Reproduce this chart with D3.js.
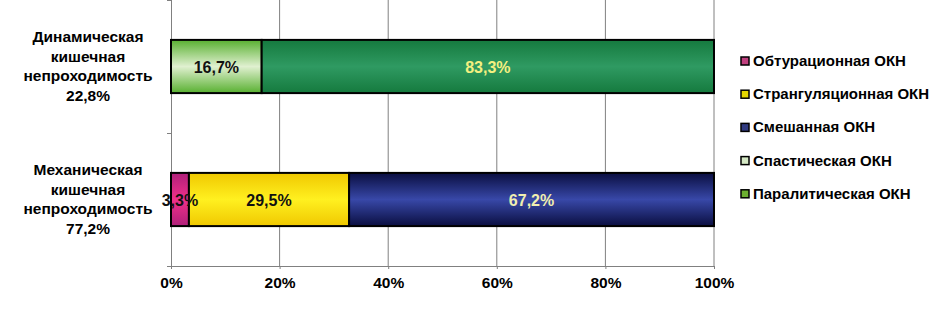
<!DOCTYPE html>
<html>
<head>
<meta charset="utf-8">
<script src="https://cdnjs.cloudflare.com/ajax/libs/d3/7.8.5/d3.min.js"></script>
<style>
  body { margin: 0; background: #fff; }
  svg text { font-family: "Liberation Sans", Arial, sans-serif; font-weight: bold; }
</style>
</head>
<body>
<div id="chart"></div>
<script>
// categories, top to bottom
var categories = ["Динамическая кишечная непроходимость 22,8%", "Механическая кишечная непроходимость 77,2%"];
var categoryLines = [
  ["Динамическая", "кишечная", "непроходимость", "22,8%"],
  ["Механическая", "кишечная", "непроходимость", "77,2%"]
];
var seriesNames = ["Обтурационная ОКН", "Странгуляционная ОКН", "Смешанная ОКН", "Спастическая ОКН", "Паралитическая ОКН"];
// values per series, in category order (dynamic, mechanical)
var obturation = [0, 3.3];
var strangulation = [0, 29.5];
var mixed = [0, 67.2];
var spastic = [16.7, 0];
var paralytic = [83.3, 0];
var valueLabels = [
  ["", "3,3%"], ["", "29,5%"], ["", "67,2%"], ["16,7%", ""], ["83,3%", ""]
];
var xTicks = [0, 0.2, 0.4, 0.6, 0.8, 1];

var allSeries = [obturation, strangulation, mixed, spastic, paralytic];
// [edge, middle] colours for bar gradients, plus legend swatch and label colour
var barColors = [["#b0207a", "#f0308a"], ["#f0c800", "#fff020"], ["#0a0e40", "#3848a8"], ["#58b030", "#e0f0d0"], ["#157a3e", "#2f9a62"]];
var swatchColors = ["#c0407f", "#e6d800", "#303a80", "#d4e8c4", "#6cb030"];
var labelColors = ["#111", "#111", "#f0eeb0", "#111", "#f4f080"];

var width = 947, height = 310;
var margin = { left: 171, right: 233, top: 0, bottom: 44 };

var svg = d3.select("#chart").append("svg")
  .attr("width", width)
  .attr("height", height);

var x = d3.scaleLinear().domain([0, 1]).range([margin.left, width - margin.right]);
var y = d3.scaleBand().domain(categories).range([margin.top, height - margin.bottom]).paddingInner(0.6).paddingOuter(0.3);
var yBand = d3.scaleBand().domain(categories).range([margin.top, height - margin.bottom]);

// gradients
var defs = svg.append("defs");
barColors.forEach(function(c, i) {
  var g = defs.append("linearGradient").attr("id", "g" + i)
    .attr("x1", 0).attr("y1", 0).attr("x2", 0).attr("y2", 1);
  g.append("stop").attr("offset", "0%").attr("stop-color", c[0]);
  g.append("stop").attr("offset", "50%").attr("stop-color", c[1]);
  g.append("stop").attr("offset", "100%").attr("stop-color", c[0]);
});

// grid lines
svg.append("g").selectAll("line").data(xTicks.slice(1)).enter().append("line")
  .attr("x1", function(d) { return x(d); })
  .attr("x2", function(d) { return x(d); })
  .attr("y1", margin.top)
  .attr("y2", height - margin.bottom)
  .attr("stroke", "#808080")
  .attr("stroke-width", 1);

// x axis
var xAxis = svg.append("g")
  .attr("transform", "translate(0," + (height - margin.bottom) + ")")
  .call(d3.axisBottom(x).tickValues(xTicks).tickFormat(d3.format(".0%")).tickSize(3));
xAxis.select(".domain").attr("stroke", "#808080");
xAxis.selectAll(".tick line").attr("stroke", "#808080");
xAxis.selectAll("text").attr("font-size", 15.5).attr("fill", "#000").attr("dy", "1.05em")
  .style("font-family", "'Liberation Sans', Arial, sans-serif").style("font-weight", "bold");

// y axis line with boundary ticks
svg.append("line")
  .attr("x1", x(0) + 0.5).attr("x2", x(0) + 0.5)
  .attr("y1", margin.top).attr("y2", height - margin.bottom)
  .attr("stroke", "#808080");
var boundaries = categories.map(function(c) { return yBand(c); }).concat([height - margin.bottom]);
svg.append("g").selectAll("line").data(boundaries).enter().append("line")
  .attr("x1", x(0) - 4).attr("x2", x(0))
  .attr("y1", function(d) { return d + 0.5; })
  .attr("y2", function(d) { return d + 0.5; })
  .attr("stroke", "#808080");

// category labels
categoryLines.forEach(function(lines, ci) {
  var cy = y(categories[ci]) + y.bandwidth() / 2;
  var t = svg.append("text")
    .attr("text-anchor", "middle")
    .attr("font-size", 15.5)
    .attr("fill", "#000");
  lines.forEach(function(l, li) {
    t.append("tspan")
      .attr("x", 88)
      .attr("y", cy + (li - (lines.length - 1) / 2) * 19.7 + 5)
      .text(l);
  });
});

// stacked segments
categories.forEach(function(cat, ci) {
  var acc = 0;
  allSeries.forEach(function(s, si) {
    var v = s[ci] / 100;
    if (v > 0) {
      var x0 = x(acc), x1 = x(acc + v);
      svg.append("rect")
        .attr("x", x0)
        .attr("y", y(cat))
        .attr("width", x1 - x0)
        .attr("height", y.bandwidth())
        .attr("fill", "url(#g" + si + ")")
        .attr("stroke", "#000")
        .attr("stroke-width", 2);
      acc += v;
    }
  });
  acc = 0;
  allSeries.forEach(function(s, si) {
    var v = s[ci] / 100;
    if (v > 0) {
      svg.append("text")
        .attr("x", x(acc + v / 2))
        .attr("y", y(cat) + y.bandwidth() / 2 + 6)
        .attr("text-anchor", "middle")
        .attr("font-size", 16)
        .attr("fill", labelColors[si])
        .text(valueLabels[si][ci]);
      acc += v;
    }
  });
});

// legend
var legend = svg.append("g").attr("transform", "translate(741,61)");
seriesNames.forEach(function(name, i) {
  var row = legend.append("g").attr("transform", "translate(0," + (i * 33.2) + ")");
  row.append("rect")
    .attr("x", 0).attr("y", -4)
    .attr("width", 8).attr("height", 8)
    .attr("fill", swatchColors[i])
    .attr("stroke", "#000")
    .attr("stroke-width", 1.5);
  row.append("text")
    .attr("x", 12).attr("y", 5)
    .attr("font-size", 15)
    .attr("fill", "#000")
    .text(name);
});
</script>
</body>
</html>
